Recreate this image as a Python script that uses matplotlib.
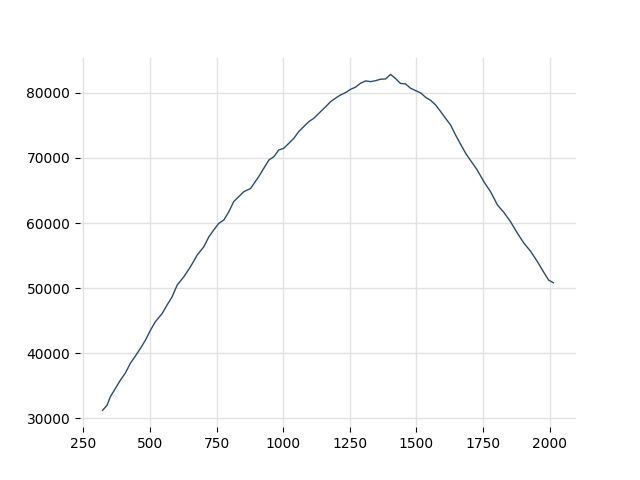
import matplotlib
matplotlib.use("Agg")
import matplotlib.pyplot as plt

# values
x_vals = [322, 339, 351, 370, 389, 408, 426, 445, 464, 483, 502, 520, 546, 564,
          583, 602, 627, 652, 677, 702, 721, 739, 758, 777, 796, 814, 833, 852,
          877, 908, 927, 946, 965, 983, 1002, 1021, 1040, 1058, 1077, 1096, 1115,
          1134, 1159, 1178, 1196, 1215, 1234, 1253, 1271, 1290, 1309, 1328, 1347,
          1365, 1384, 1403, 1422, 1440, 1459, 1478, 1497, 1516, 1534, 1553, 1572,
          1591, 1609, 1628, 1647, 1666, 1685, 1703, 1728, 1753, 1778, 1804, 1828,
          1853, 1879, 1903, 1929, 1954, 1979, 1996, 2014]
y_vals = [31200, 32000, 33280, 34570, 35850, 36970, 38410, 39540, 40720, 42000,
          43540, 44820, 46110, 47390, 48660, 50460, 51740, 53280, 55080, 56350,
          57890, 58920, 59950, 60460, 61740, 63280, 64050, 64820, 65300, 67120,
          68410, 69690, 70200, 71230, 71490, 72260, 73030, 74050, 74820, 75590,
          76110, 76880, 77880, 78660, 79190, 79690, 80050, 80570, 80880, 81490,
          81850, 81740, 81890, 82110, 82150, 82850, 82190, 81460, 81390, 80720,
          80350, 80000, 79340, 78860, 78150, 77120, 76110, 75080, 73510, 72080,
          70690, 69620, 68150, 66350, 64820, 62770, 61630, 60200, 58420, 56920,
          55620, 54050, 52340, 51230, 50820]

fig, ax = plt.subplots(figsize=(6.4, 4.8), dpi=100)
ax.plot(x_vals, y_vals, color="#2d4b6e", linewidth=1.0)

ax.grid(True, color="#e2e2e2", linewidth=1.0)
ax.set_axisbelow(True)
for side in ["top", "right", "bottom", "left"]:
    ax.spines[side].set_visible(False)
ax.set_xticks([250, 500, 750, 1000, 1250, 1500, 1750, 2000])

fig.savefig("out.png")
